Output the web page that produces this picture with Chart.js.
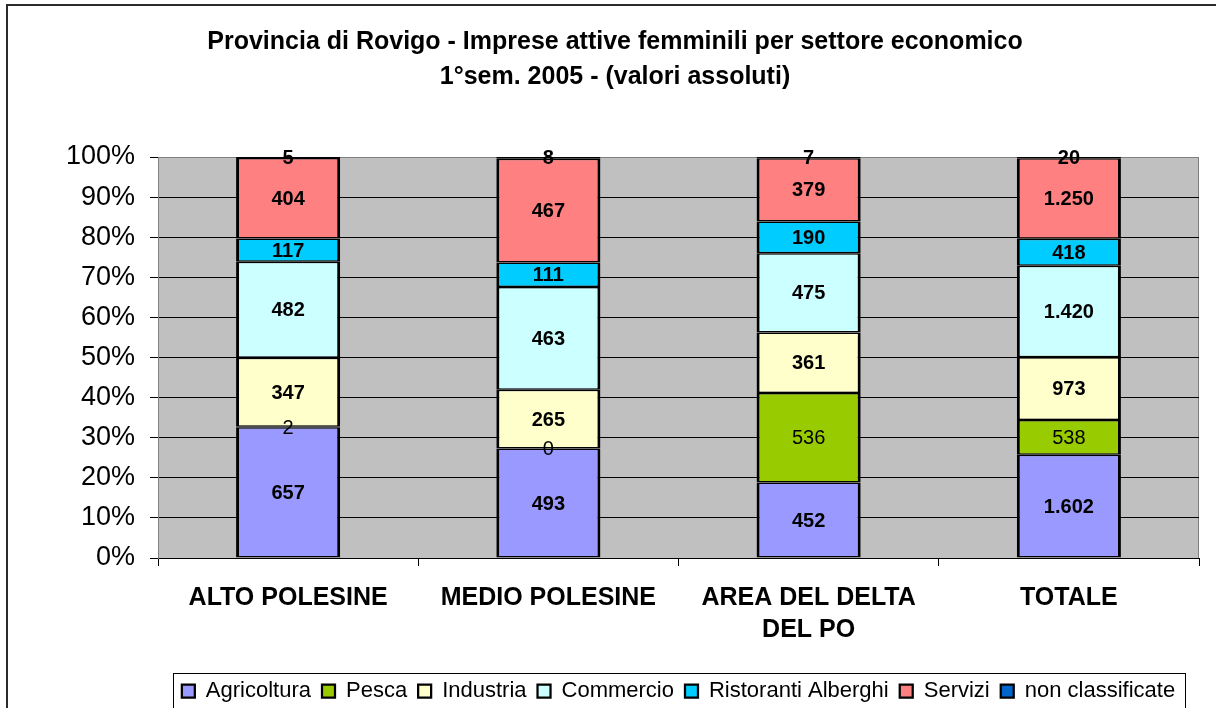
<!DOCTYPE html>
<html>
<head>
<meta charset="utf-8">
<title>Provincia di Rovigo - Imprese attive femminili</title>
<script src="https://cdn.jsdelivr.net/npm/chart.js@4.4.0/dist/chart.umd.min.js"></script>
<style>
  html, body { margin: 0; padding: 0; background: #fff; overflow: hidden; width: 1216px; height: 708px; }
  #frame { position: absolute; left: 6px; top: 4px; width: 1300px; height: 800px; border: 2px solid #2b2b2b; box-sizing: border-box; }
  #rovigoChart { position: absolute; left: 0; top: 0; }
</style>
</head>
<body>
<div id="frame"></div>
<canvas id="rovigoChart" width="1230" height="712"></canvas>
<script>
// --- data (absolute counts, 1st half 2005) ---
const areas = ["ALTO POLESINE", "MEDIO POLESINE", ["AREA DEL DELTA", "DEL PO"], "TOTALE"];
const sectors = ["Agricoltura", "Pesca", "Industria", "Commercio", "Ristoranti Alberghi", "Servizi", "non classificate"];

const agricoltura   = [657, 493, 452, 1602];
const pesca         = [2, 0, 536, 538];
const industria     = [347, 265, 361, 973];
const commercio     = [482, 463, 475, 1420];
const ristoranti    = [117, 111, 190, 418];
const servizi       = [404, 467, 379, 1250];
const nonClassif    = [5, 8, 7, 20];

const yTicks = [0, 10, 20, 30, 40, 50, 60, 70, 80, 90, 100];

const series = [agricoltura, pesca, industria, commercio, ristoranti, servizi, nonClassif];
const colors = ["#9999FF", "#99CC00", "#FFFFCC", "#CCFFFF", "#00CCFF", "#FF8080", "#0066CC"];

const FONT = "'Liberation Sans', Arial, Helvetica, sans-serif";

// column totals -> 100% stacking
const totals = areas.map((_, j) => series.reduce((s, arr) => s + arr[j], 0));

function fmt(v){
  return String(v).replace(/\B(?=(\d{3})+(?!\d))/g, ".");
}

// grey plot area with thin grey frame (Excel look)
const plotBg = {
  id: "plotBg",
  beforeDraw(chart){
    const {ctx, chartArea: a} = chart;
    ctx.save();
    ctx.fillStyle = "#C0C0C0";
    ctx.fillRect(a.left, a.top, a.right - a.left, a.bottom - a.top);
    ctx.strokeStyle = "#808080";
    ctx.lineWidth = 1;
    ctx.strokeRect(a.left + 0.5, a.top + 0.5, a.right - a.left - 1, a.bottom - a.top);
    ctx.restore();
  }
};

// value labels in the middle of each segment
const valueLabels = {
  id: "valueLabels",
  afterDatasetsDraw(chart){
    const ctx = chart.ctx;
    ctx.save();
    ctx.textAlign = "center";
    ctx.textBaseline = "middle";
    ctx.fillStyle = "#000";
    chart.data.datasets.forEach((ds, i) => {
      const meta = chart.getDatasetMeta(i);
      ctx.font = (ds.labelBold ? "bold " : "") + "20px " + FONT;
      meta.data.forEach((bar, j) => {
        ctx.fillText(fmt(ds.counts[j]), bar.x, (bar.y + bar.base) / 2 + 1);
      });
    });
    ctx.restore();
  }
};

// box around the legend
const legendBox = {
  id: "legendBox",
  afterDraw(chart){
    const lg = chart.legend;
    if (!lg || !lg.legendHitBoxes || !lg.legendHitBoxes.length) return;
    const hb = lg.legendHitBoxes;
    const l = Math.min(...hb.map(h => h.left)) - 9;
    const r = Math.max(...hb.map(h => h.left + h.width)) + 10;
    const t = hb[0].top - 7;
    const b = hb[0].top + hb[0].height + 7;
    const ctx = chart.ctx;
    ctx.save();
    ctx.strokeStyle = "#000";
    ctx.lineWidth = 1;
    ctx.strokeRect(Math.round(l) + 0.5, Math.round(t) + 0.5, Math.round(r - l), Math.round(b - t));
    ctx.restore();
  }
};

const datasets = sectors.map((name, i) => ({
  label: name,
  data: series[i].map((v, j) => v / totals[j] * 100),
  counts: series[i],
  labelBold: name !== "Pesca",
  backgroundColor: colors[i],
  borderColor: "#000",
  borderWidth: { top: 1.5, bottom: 1.5, left: 3, right: 3 },
  borderSkipped: false,
  barPercentage: 0.4,
  categoryPercentage: 1
}));

new Chart(document.getElementById("rovigoChart"), {
  type: "bar",
  data: { labels: areas, datasets },
  plugins: [plotBg, valueLabels, legendBox],
  options: {
    responsive: false,
    devicePixelRatio: 1,
    animation: false,
    layout: { padding: 0 },
    plugins: {
      title: {
        display: true,
        text: ["Provincia di Rovigo - Imprese attive femminili per settore economico", "1°sem. 2005 - (valori assoluti)"],
        color: "#000",
        font: { family: FONT, size: 25, weight: "bold", lineHeight: 1.4 },
        padding: { top: 25, bottom: 62 }
      },
      legend: {
        position: "bottom",
        fullSize: false,
        labels: {
          color: "#000",
          font: { family: FONT, size: 22 },
          boxWidth: 13,
          boxHeight: 13,
          padding: 11
        }
      },
      tooltip: { enabled: false }
    },
    scales: {
      x: {
        stacked: true,
        afterFit: (s) => { s.height = 111; },
        grid: { display: true, drawOnChartArea: false, offset: true, tickLength: 8, color: "#000", tickColor: "#000" },
        border: { display: true, color: "#000", width: 1 },
        ticks: {
          color: "#000",
          padding: 16,
          maxRotation: 0,
          autoSkip: false,
          font: { family: FONT, size: 25, weight: "bold", lineHeight: 1.28 }
        }
      },
      y: {
        stacked: true,
        min: 0,
        max: 100,
        afterFit: (s) => { s.width = 158; },
        afterBuildTicks: (s) => { s.ticks = yTicks.map(v => ({ value: v })); },
        grid: {
          color: (c) => c.tick && c.tick.value === 100 ? "#808080" : "#000",
          tickColor: "#000",
          tickLength: 8,
          lineWidth: 1
        },
        border: { display: true, color: "#808080" },
        ticks: {
          color: "#000",
          padding: 15,
          font: { family: FONT, size: 27 },
          callback: (v) => v + "%"
        }
      },
      // empty right-hand spacer so the title stays centred on the whole frame
      yRight: {
        type: "linear",
        position: "right",
        display: true,
        afterFit: (s) => { s.width = 31; },
        grid: { display: false, drawTicks: false },
        border: { display: false },
        ticks: { display: false }
      }
    }
  }
});
</script>
</body>
</html>
